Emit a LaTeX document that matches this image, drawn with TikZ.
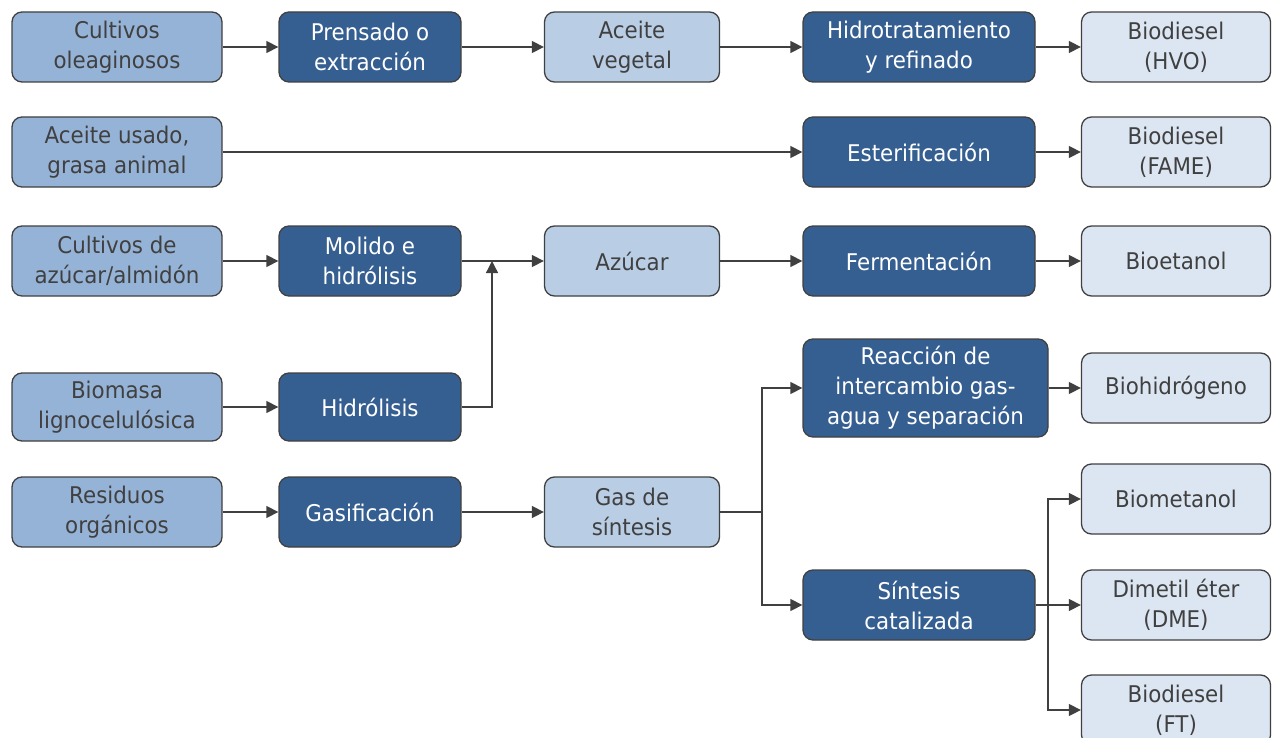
\documentclass[tikz,border=0pt]{standalone}
\usepackage{fontspec}
\setmainfont{DejaVu Sans}[FakeStretch=0.93]
\usetikzlibrary{arrows.meta}

\definecolor{feedblue}{HTML}{95B3D7}
\definecolor{procblue}{HTML}{365F91}
\definecolor{midblue}{HTML}{B9CDE5}
\definecolor{prodblue}{HTML}{DCE6F2}
\definecolor{edgegray}{HTML}{404040}

\begin{document}
\begin{tikzpicture}[x=1pt,y=-1pt,
    box/.style={draw=edgegray, line width=1.3pt, rounded corners=10pt, align=center,
        text=edgegray, inner sep=0pt, minimum height=70pt, font=\fontsize{23}{30}\selectfont},
    feed/.style={box, fill=feedblue, minimum width=210pt},
    proc/.style={box, fill=procblue, text=white, minimum width=182pt},
    inter/.style={box, fill=midblue, minimum width=175pt},
    prod/.style={box, fill=prodblue, minimum width=189pt},
    flow/.style={draw=edgegray, line width=1.3pt, -{Triangle[length=12pt,width=12pt]}},
    link/.style={draw=edgegray, line width=1.3pt}]
    \useasboundingbox (0,0) rectangle (1273,738);

    % Oil crops
    \node[feed] (oilcrop) at (117,47) {Cultivos\\oleaginosos};
    \node[proc] (press) at (370,47) {Prensado o\\extracción};
    \node[inter] (vegoil) at (632,47) {Aceite\\vegetal};
    \node[proc, minimum width=232pt] (hydrotreat) at (919,47) {Hidrotratamiento\\y refinado};
    \node[prod] (hvo) at (1176,47) {Biodiesel\\(HVO)};

    % Waste oil
    \node[feed] (wasteoil) at (117,152) {Aceite usado,\\grasa animal};
    \node[proc, minimum width=232pt] (ester) at (919,152) {Esterificación};
    \node[prod] (fame) at (1176,152) {Biodiesel\\(FAME)};

    % Sugar and lignocellulose
    \node[feed] (sugarcrop) at (117,261) {Cultivos de\\azúcar/almidón};
    \node[proc] (mill) at (370,261) {Molido e\\hidrólisis};
    \node[inter] (sugar) at (632,261) {Azúcar};
    \node[proc, minimum width=232pt] (ferment) at (919,261) {Fermentación};
    \node[prod] (ethanol) at (1176,261) {Bioetanol};
    \node[feed, minimum height=68pt] (biomass) at (117,407) {Biomasa\\lignocelulósica};
    \node[proc, minimum height=68pt] (hydrolysis) at (370,407) {Hidrólisis};

    % Gasification
    \node[feed] (residue) at (117,512) {Residuos\\orgánicos};
    \node[proc] (gasify) at (370,512) {Gasificación};
    \node[inter] (syngas) at (632,512) {Gas de\\síntesis};
    \node[proc, minimum width=245pt, minimum height=98pt] (shift) at (925.5,388) {Reacción de\\intercambio gas-\\agua y separación};
    \node[prod] (hydrogen) at (1176,388) {Biohidrógeno};
    \node[proc, minimum width=232pt] (synth) at (919,605) {Síntesis\\catalizada};
    \node[prod] (methanol) at (1176,499) {Biometanol};
    \node[prod] (dme) at (1176,605) {Dimetil éter\\(DME)};
    \node[prod] (ft) at (1176,710) {Biodiesel\\(FT)};

    % Connectors
    \draw[flow] (oilcrop) -- (press);
    \draw[flow] (press) -- (vegoil);
    \draw[flow] (vegoil) -- (hydrotreat);
    \draw[flow] (hydrotreat) -- (hvo);

    \draw[flow] (wasteoil) -- (ester);
    \draw[flow] (ester) -- (fame);

    \coordinate (join) at (492,261);
    \draw[flow] (sugarcrop) -- (mill);
    \draw[flow] (mill) -- (sugar);
    \draw[flow] (sugar) -- (ferment);
    \draw[flow] (ferment) -- (ethanol);
    \draw[flow] (biomass) -- (hydrolysis);
    \draw[flow] (hydrolysis.east) -| (join);

    \coordinate (split) at (762,512);
    \coordinate (fork) at (1048,605);
    \draw[flow] (residue) -- (gasify);
    \draw[flow] (gasify) -- (syngas);
    \draw[link] (syngas) -- (split);
    \draw[flow] (split) |- (shift.west);
    \draw[flow] (split) |- (synth.west);
    \draw[flow] (shift) -- (hydrogen);
    \draw[flow] (synth) -- (dme);
    \draw[flow] (fork) |- (methanol.west);
    \draw[flow] (fork) |- (ft.west);
\end{tikzpicture}
\end{document}
